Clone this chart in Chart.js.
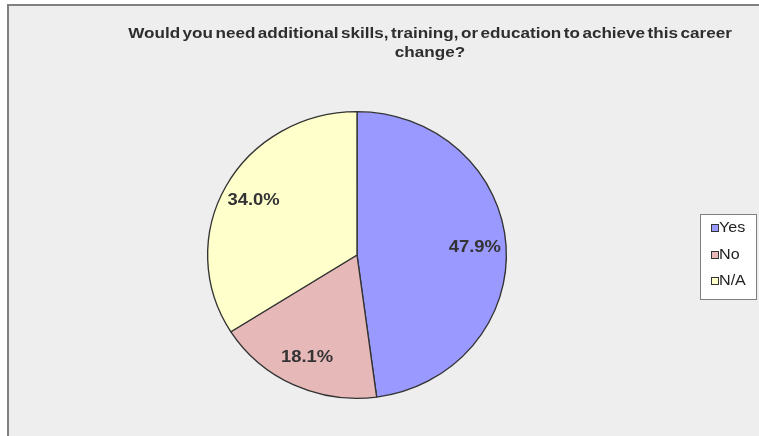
<!DOCTYPE html>
<html>
<head>
<meta charset="utf-8">
<script src="https://cdn.jsdelivr.net/npm/chart.js@4.4.0/dist/chart.umd.min.js"></script>
<style>
  html, body { margin: 0; width: 759px; height: 436px; background: #fff; overflow: hidden; }
  .frame {
    position: absolute; left: 7px; top: 4px; width: 800px; height: 480px;
    border-left: 2px solid #808080; border-top: 2px solid #808080;
    background: #eeeeee;
  }
  #pie { position: absolute; left: 0; top: 0; }
</style>
</head>
<body>
<div class="frame"></div>
<canvas id="pie" width="759" height="436"></canvas>
<script>
var titleLines = ["Would you need additional skills, training, or education to achieve this career", "change?"];
var answers = ["Yes", "No", "N/A"];
var shares = [47.9, 18.1, 34.0];
var sliceColors = ["#9999ff", "#e6b9b8", "#ffffcc"];

var stretchX = 1.042; // pie is drawn a little wider than tall
var fontName = "'Liberation Sans', Arial, sans-serif";

function pieCenter(chart) {
  var a = chart.chartArea;
  return { x: (a.left + a.right) / 2, y: (a.top + a.bottom) / 2 };
}

// text with a horizontal stretch, anchored at x
function wideText(ctx, text, x, y, stretch) {
  ctx.save();
  ctx.translate(x, y);
  ctx.scale(stretch, 1);
  ctx.fillText(text, 0, 0);
  ctx.restore();
}

// squash the pie into a slight ellipse
var ellipsePlugin = {
  id: 'ellipse',
  beforeDatasetsDraw: function(chart) {
    var c = pieCenter(chart), ctx = chart.ctx;
    ctx.save();
    ctx.translate(c.x, c.y);
    ctx.scale(stretchX, 1);
    ctx.translate(-c.x, -c.y);
  },
  afterDatasetsDraw: function(chart) {
    chart.ctx.restore();
  }
};

// percentages, title and the boxed legend
var decorPlugin = {
  id: 'decor',
  afterDraw: function(chart) {
    var ctx = chart.ctx;
    var c = pieCenter(chart);
    var meta = chart.getDatasetMeta(0);

    ctx.save();
    ctx.fillStyle = '#333333';
    ctx.textAlign = 'center';
    ctx.textBaseline = 'middle';
    ctx.font = 'bold 16px ' + fontName;
    meta.data.forEach(function(arc, i) {
      var p = arc.getProps(['startAngle', 'endAngle', 'outerRadius'], true);
      var mid = (p.startAngle + p.endAngle) / 2;
      var r = p.outerRadius * 0.79;
      var x = c.x + Math.cos(mid) * r * stretchX;
      var y = c.y + Math.sin(mid) * r;
      wideText(ctx, chart.data.datasets[0].data[i].toFixed(1) + '%', x, y, 1.15);
    });

    ctx.font = 'bold 15px ' + fontName;
    ctx.wordSpacing = '-2px';
    ctx.fillStyle = '#2e2e2e';
    wideText(ctx, titleLines[0], 430, 34, 1.14);
    wideText(ctx, titleLines[1], 430, 53, 1.14);
    ctx.wordSpacing = '0px';

    // legend
    ctx.fillStyle = '#ffffff';
    ctx.strokeStyle = '#808080';
    ctx.lineWidth = 1;
    ctx.fillRect(700.5, 214.5, 56, 85);
    ctx.strokeRect(700.5, 214.5, 56, 85);
    ctx.font = '14px ' + fontName;
    ctx.textAlign = 'left';
    chart.data.labels.forEach(function(label, i) {
      var y = Math.round(228 + i * 26.5);
      ctx.fillStyle = sliceColors[i];
      ctx.fillRect(711.5, y - 3.5, 7, 7);
      ctx.strokeStyle = '#333333';
      ctx.strokeRect(711.5, y - 3.5, 7, 7);
      ctx.fillStyle = '#222222';
      wideText(ctx, label, 719, y, 1.15);
    });
    ctx.restore();
  }
};

var ctx = document.getElementById('pie').getContext('2d');
new Chart(ctx, {
  type: 'pie',
  data: {
    labels: answers,
    datasets: [{
      data: shares,
      backgroundColor: sliceColors,
      borderColor: '#333333',
      borderWidth: 1.3
    }]
  },
  options: {
    responsive: false,
    animation: false,
    devicePixelRatio: 1,
    events: [],
    layout: { padding: { top: 111, bottom: 37, left: 213, right: 258 } },
    plugins: {
      legend: { display: false },
      title: { display: false },
      tooltip: { enabled: false }
    }
  },
  plugins: [ellipsePlugin, decorPlugin]
});
</script>
</body>
</html>
